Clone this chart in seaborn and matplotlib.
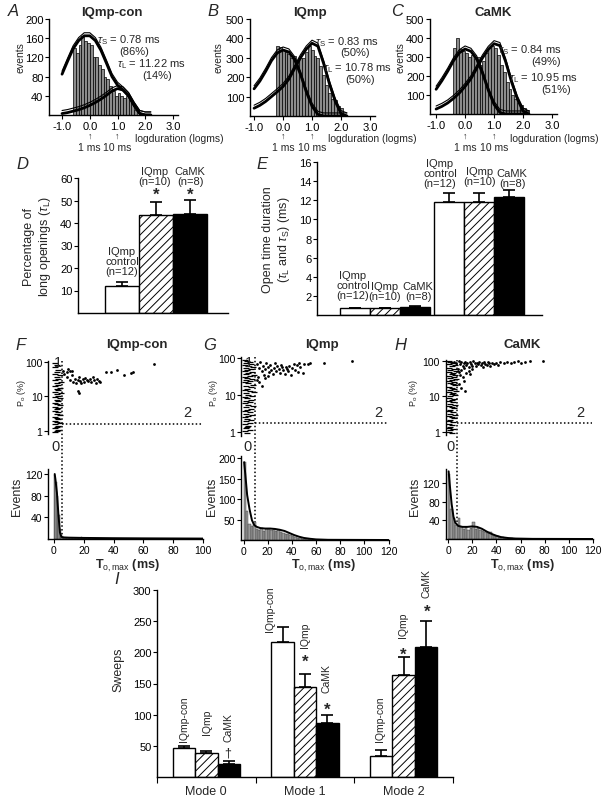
import numpy as np
import pandas as pd
import matplotlib
matplotlib.use("Agg")
import matplotlib.pyplot as plt
import matplotlib.transforms as mtransforms
import seaborn as sns

# ---------------- data ----------------
# Panels A-C : open-time histograms (log10 duration, bin width 0.1 log units)
A_centers = [-0.55,-0.45,-0.35,-0.25,-0.15,-0.05,0.05,0.15,0.25,0.35,0.45,0.55,
             0.65,0.75,0.85,0.95,1.05,1.15,1.25,1.35,1.45,1.55,1.65]
A_counts = [140,130,145,165,155,150,145,120,120,105,95,80,75,60,50,40,45,40,35,40,38,25,10]
B_centers = [-0.2,-0.1,0.0,0.1,0.2,0.3,0.4,0.5,0.6,0.7,0.8,0.9,1.0,1.1,1.2,1.3,1.4,
             1.5,1.6,1.7,1.8,1.9,2.0]
B_counts = [360,355,340,330,320,300,310,290,300,300,330,360,340,310,300,260,210,160,
            120,90,80,50,40]
C_centers = [-0.35,-0.25,-0.15,-0.05,0.05,0.15,0.25,0.35,0.45,0.55,0.65,0.75,0.85,0.95,
             1.05,1.15,1.25,1.35,1.45,1.55,1.65,1.75,1.85,1.95,2.05,2.15]
C_counts = [350,400,340,330,320,300,310,290,300,260,280,320,350,360,350,310,260,220,
            170,130,100,80,60,50,30,20]
# fitted components
fit_x = [-1.0,-0.8,-0.6,-0.4,-0.2,0.0,0.2,0.4,0.6,0.8,1.0,1.2,1.4,1.6,1.8,2.0,2.2]
A_fast = [85,112,138,155,165,165,155,135,108,80,62,52,40,20,3,0,0]
A_slow = [3,5,8,11,15,20,26,33,41,50,55,52,40,20,3,0,0]
B_fast = [140,180,230,285,325,340,330,290,215,125,50,8,0,0,0,0,0]
B_slow = [40,55,75,100,125,152,190,245,300,345,375,360,270,165,75,12,0]
C_fast = [130,175,225,280,322,342,330,290,215,125,50,8,0,0,0,0,0]
C_slow = [26,40,58,82,110,145,185,240,295,340,370,360,275,170,80,15,0]

# Panel D : percentage of long openings
D_conds = ['IQmp control', 'IQmp', 'CaMK']
D_vals = [12.0, 43.5, 44.2]
D_err = [2.0, 6.0, 6.0]

# Panel E : open time constants
COND = ['IQmp-con', 'IQmp', 'CaMK']
E_taus = ['tauS', 'tauL']
E_vals_S = [0.70, 0.70, 0.80]
E_err_S = [0.08, 0.08, 0.10]
E_vals_L = [11.8, 11.8, 12.3]
E_err_L = [1.0, 1.0, 0.8]

# Panels F-H : scatter of Po vs To,max (ms, %)
F_col = [(1,95),(2,82),(1,70),(3,60),(2,52),(1,46),(4,41),(2,37),(3,33),(1,30),(5,27),
         (2,24),(3,22),(1,20),(4,18),(2,16.5),(3,15),(1,13.5),(5,12.5),(2,11.5),(3,10.5),
         (1,9.6),(4,8.8),(2,8),(3,7.3),(1,6.6),(2,6),(4,5.5),(1,5),(3,4.6),(2,4.2),(1,3.8),
         (3,3.5),(2,3.2),(4,2.9),(1,2.6),(2,2.4),(3,2.2),(1,2.0),(2,1.85),(4,1.7),(1,1.55),
         (3,1.42),(2,1.3),(1,1.2),(3,1.1),(2,1.0),(1,0.95)]
F_pts = [(6,55),(7,45),(8.5,50),(9,38),(10.7,56),(11,30),(12,42),(13,27),(14,32),(15,25),
         (16,30),(17,36),(17.5,28),(18,24),(19.7,32),(20,26),(21,35),(22,30),(23,28),
         (24,33),(25,26),(26,38),(27,30),(28,25),(28.6,33),(30,28),(31,26),(16,14),(17,13),
         (35,50),(38,53),(42,57),(47,42),(52,47),(53,52),(67,88),(12,55),(9.5,62)]
G_col = [(1,90),(3,85),(5,80),(2,74),(6,70),(1,65),(4,62),(8,58),(2,55),(6,52),(3,48),
         (1,45),(7,43),(4,40),(2,37),(9,35),(5,33),(1,31),(3,29),(7,27),(2,25),(5,23.5),
         (1,22),(4,20.5),(8,19),(2,17.5),(6,16),(3,15),(1,14),(5,13),(9,12),(2,11),(4,10.2),
         (7,9.5),(1,8.8),(3,8.1),(6,7.5),(2,7),(5,6.5),(1,6),(4,5.5),(8,5.1),(2,4.7),(6,4.3),
         (3,4),(1,3.7),(5,3.4),(2,3.1),(7,2.9),(4,2.7),(1,2.5),(3,2.3),(6,2.1),(2,1.95),
         (5,1.8),(1,1.65),(4,1.5),(3,1.38),(2,1.25),(5,1.15),(1,1.05),(3,0.95)]
G_pts = [(11,70),(13,55),(14,78),(15,45),(16,62),(17,35),(18,50),(19,72),(20,58),(21,42),
         (22,66),(23,48),(24,38),(25,55),(26,74),(27,45),(28,60),(29,52),(30,40),(31,65),
         (32,56),(33,47),(34,36),(35,58),(36,50),(37,44),(38,62),(39,34),(40,54),(42,70),
         (43,48),(44,66),(45,42),(46,72),(47,58),(49,40),(50,68),(53,70),(55,74),(67,73),
         (89.6,84),(12,30),(13,22),(15,18),(11,25),(18,28),(20,33)]
H_col = [(0.5,98),(2,92),(4,86),(1,80),(6,75),(3,70),(0.5,65),(5,61),(2,57),(7,53),(1,50),
         (4,47),(3,44),(6,41),(1,38),(5,35),(2,33),(7,31),(3,29),(0.5,27),(5,25),(2,23.5),
         (4,22),(6,20.5),(1,19),(3,17.5),(5,16.5),(2,15.5),(7,14.5),(1,13.5),(4,12.5),
         (3,11.5),(6,10.8),(2,10),(0.5,9.3),(5,8.6),(3,8),(1,7.4),(4,6.8),(2,6.3),(6,5.8),
         (1,5.4),(3,5),(5,4.6),(2,4.2),(0.5,3.9),(4,3.6),(2,3.3),(6,3),(1,2.8),(3,2.6),
         (5,2.4),(2,2.2),(0.5,2),(4,1.85),(1,1.7),(3,1.55),(2,1.42),(0.5,1.3),(4,1.2),
         (2,1.1),(1,1.0),(3,0.92)]
H_pts = [(5,95),(7,88),(9,98),(10,80),(11,92),(12,72),(13,85),(14,96),(15,76),(16,89),
         (17,68),(18,93),(19,82),(20,74),(21,97),(22,86),(23,70),(24,90),(25,80),(26,95),
         (27,75),(28,88),(29,68),(30,92),(31,84),(32,78),(33,96),(34,86),(35,72),(36,90),
         (38,82),(40,88),(41,76),(43,92),(46,86),(49,95),(52,90),(55,93),(58,97),(60,88),
         (64,92),(68,100),(79,100),(8,60),(9,48),(10,40),(11,55),(12,35),(13,28),(9,22),
         (11,17),(14,14),(15,45),(17,52),(13,64),(20,58),(18,44)]
# To,max histograms
F_hist_c = [0.5,1.5,2.5,3.5,4.5,5.5,6.5,7.5,8.5,9.5,10.5,11.5,12.5,13.5,14.5,15.5,16.5,
            17.5,18.5,19.5,20.5,21.5,22.5,23.5,24.5]
F_hist_n = [118,105,80,45,18,6,3,2,2,1,1,1,1,1,1,1,1,1,4,1,1,1,0,1,0]
GH_hist_c = [1,3,5,7,9,11,13,15,17,19,21,23,25,27,29,31,33,35,37,39,41,43,45,47,49,51,53,
             55,57,59]
G_hist_n = [190,70,40,35,45,28,25,30,22,28,26,24,27,22,25,20,18,15,14,11,9,7,6,4,3,3,2,2,1,1]
H_hist_n = [140,65,45,30,45,25,22,25,20,24,36,22,24,20,18,14,12,16,9,7,6,5,4,3,3,2,2,1,1,1]
F_curve_x = [0.5,1,2,3,4,5,6,10,20,40,60,80,100]
F_curve_y = [120,110,85,45,12,4,3,2.5,2,1.5,1.2,1,0.8]
G_curve_x = [0.5,1.5,3,5,7,9,11,14,18,22,26,30,34,38,42,46,50,55,60,70,120]
G_curve_y = [190,160,110,75,48,36,32,29,28,28,27,25,22,17,12,8,5,3,1.5,0.5,0]
H_curve_x = [0.5,1.5,3,4.5,6,8.5,12,16,20,24,28,32,36,40,44,50,56,70,120]
H_curve_y = [145,115,75,48,35,28,26,26,27,26,22,16,11,7,4,2,1,0.3,0]
F_thr = (5.5, 1.6)
G_thr = (9.5, 1.75)
H_thr = (7.5, 1.8)

# Panel I : sweeps per mode
I_modes = ['Mode 0', 'Mode 1', 'Mode 2']
I_con = [46, 217, 33]
I_con_err = [4, 24, 11]
I_iq = [38, 145, 163]
I_iq_err = [4, 21, 29]
I_camk = [21, 86, 209]
I_camk_err = [4, 14, 42]

# ---------------- style ----------------
sns.set_theme(style='ticks')
plt.rcParams['font.family'] = ['Liberation Sans', 'DejaVu Sans']
plt.rcParams['mathtext.fontset'] = 'custom'
plt.rcParams['mathtext.rm'] = 'Liberation Sans'
plt.rcParams['mathtext.it'] = 'Liberation Sans:italic'
plt.rcParams['mathtext.bf'] = 'Liberation Sans:bold'
plt.rcParams['hatch.linewidth'] = 0.7
plt.rcParams['hatch.color'] = 'black'

W, H = 612, 803
fig = plt.figure(figsize=(W / 100, H / 100), dpi=100)
fig.patch.set_facecolor('white')


def add_ax(x0, y0, x1, y1):
    return fig.add_axes([x0 / W, 1 - y1 / H, (x1 - x0) / W, (y1 - y0) / H])


def ftext(x, y, s, **kw):
    kw.setdefault('ha', 'center')
    kw.setdefault('va', 'center')
    kw.setdefault('fontsize', 8)
    return fig.text(x / W, 1 - y / H, s, **kw)


def style_ax(ax, labelsize=8):
    for s in ['top', 'right']:
        ax.spines[s].set_visible(False)
    for s in ['left', 'bottom']:
        ax.spines[s].set_linewidth(1.0)
        ax.spines[s].set_color('black')
    ax.tick_params(direction='out', length=3, width=0.8, labelsize=labelsize, pad=1.0,
                   colors='black')
    ax.set_xlabel('')
    ax.set_ylabel('')
    ax.set_facecolor('none')
    ax.grid(False)


def blend_y(ax):
    return mtransforms.blended_transform_factory(ax.transData, fig.transFigure)


# ---------------- panels A-C ----------------
hist_specs = [
    dict(box=(49, 20, 178, 116), xlim=(-1.47, 3.18), ylim=(0, 200), yt=[40, 80, 120, 160, 200],
         c=A_centers, n=A_counts, brange=(-0.6, 1.7), fast=A_fast, slow=A_slow,
         title='IQmp-con', title_x=112, letter='A', letter_x=8, ylab_x=20, xlab_x=135,
         ann=[(r'$\tau_{\rm S}$ = 0.78 ms', 129, 40), ('(86%)', 134, 52),
              (r'$\tau_{\rm L}$ = 11.22 ms', 151, 64), ('(14%)', 157, 76)]),
    dict(box=(250, 20, 375, 117), xlim=(-1.14, 3.17), ylim=(0, 500),
         yt=[100, 200, 300, 400, 500],
         c=B_centers, n=B_counts, brange=(-0.25, 2.05), fast=B_fast, slow=B_slow,
         title='IQmp', title_x=310, letter='B', letter_x=207, ylab_x=219, xlab_x=328,
         ann=[(r'$\tau_{\rm S}$ = 0.83 ms', 347, 42), ('(50%)', 355, 53),
              (r'$\tau_{\rm L}$ = 10.78 ms', 357, 68), ('(50%)', 360, 80)]),
    dict(box=(430, 20, 557, 115), xlim=(-1.21, 3.17), ylim=(0, 500),
         yt=[100, 200, 300, 400, 500],
         c=C_centers, n=C_counts, brange=(-0.4, 2.2), fast=C_fast, slow=C_slow,
         title='CaMK', title_x=493, letter='C', letter_x=391, ylab_x=401, xlab_x=510,
         ann=[(r'$\tau_{\rm S}$ = 0.84 ms', 530, 50), ('(49%)', 546, 62),
              (r'$\tau_{\rm L}$ = 10.95 ms', 543, 78), ('(51%)', 556, 90)]),
]

for sp in hist_specs:
    ax = add_ax(*sp['box'])
    sns.histplot(x=sp['c'], weights=sp['n'], binwidth=0.1, binrange=sp['brange'],
                 color='#8c8c8c', edgecolor='black', linewidth=0.5, alpha=1.0, ax=ax)
    up = ax.transData + mtransforms.ScaledTranslation(0, 2.2 / 72, fig.dpi_scale_trans)
    for yy in (sp['fast'], sp['slow']):
        sns.lineplot(x=fit_x, y=yy, color='black', linewidth=2.0, sort=False, ax=ax)
        ax.plot(fit_x, yy, color='black', linewidth=0.8, transform=up)
    style_ax(ax)
    ax.set_xlim(*sp['xlim'])
    ax.set_ylim(*sp['ylim'])
    ax.set_yticks(sp['yt'])
    ax.set_xticks([-1, 0, 1, 2, 3])
    ax.set_xticklabels(['-1.0', '0.0', '1.0', '2.0', '3.0'])
    bt = blend_y(ax)
    for xv in (0, 1):
        ax.text(xv, 1 - 136 / H, '↑', transform=bt, ha='center', va='center', fontsize=6.5)
    ax.text(0, 1 - 148 / H, '1 ms', transform=bt, ha='center', va='center', fontsize=7.5)
    ax.text(1, 1 - 148 / H, '10 ms', transform=bt, ha='center', va='center', fontsize=7.5)
    ftext(sp['xlab_x'], 139, 'logduration (logms)', ha='left', fontsize=7.5)
    ftext(sp['ylab_x'], 58, 'events', rotation=90, fontsize=7.5)
    ftext(sp['title_x'], 13, sp['title'], fontsize=9.5, fontweight='bold')
    ftext(sp['letter_x'], 11, sp['letter'], fontsize=12, fontstyle='italic', ha='left')
    for s, x, y in sp['ann']:
        ftext(x, y, s, fontsize=8)

pal = {'IQmp-con': 'white', 'IQmp': 'white', 'CaMK': 'black',
       'IQmp control': 'white'}


def finish_bars(ax, vals, errs):
    patches = sorted([p for p in ax.patches if p.get_width() > 0], key=lambda p: p.get_x())
    for i, (p, v, e) in enumerate(zip(patches, vals, errs)):
        if i % 3 == 1:
            p.set_hatch('////')
        p.set_edgecolor('black')
        p.set_linewidth(1.0)
        cx = p.get_x() + p.get_width() / 2
        ax.errorbar([cx], [v], yerr=[[0], [e]], fmt='none', ecolor='black',
                    elinewidth=1.2, capsize=4, capthick=1.2)


# ---------------- panel D ----------------
axD = add_ax(78, 179, 228, 314)
dfD = pd.DataFrame({'cond': D_conds, 'val': D_vals})
sns.barplot(data=dfD, x='cond', y='val', hue='cond', palette=pal, dodge=False, width=1.0,
            saturation=1, errorbar=None, legend=False, ax=axD)
finish_bars(axD, D_vals, D_err)
style_ax(axD)
axD.set_xlim(-1.29, 3.12)
axD.set_ylim(0, 60)
axD.set_yticks([10, 20, 30, 40, 50, 60])
axD.set_xticks([])
ftext(22, 165, 'D', fontsize=12, fontstyle='italic')
ftext(38, 247, 'Percentage of\n' + r'long openings ($\tau_{\rm L}$)', rotation=90,
      fontsize=9, linespacing=1.1)
ftext(122, 262, 'IQmp\ncontrol\n(n=12)', linespacing=1.05)
ftext(155, 177, 'IQmp\n(n=10)', linespacing=1.05)
ftext(190, 177, 'CaMK\n(n=8)', linespacing=1.05)
ftext(156, 195, '*', fontsize=12, fontweight='bold')
ftext(190, 195, '*', fontsize=12, fontweight='bold')

# ---------------- panel E ----------------
axE = add_ax(317, 163, 542, 316)
dfE = pd.DataFrame({'tau': [E_taus[0]] * 3 + [E_taus[1]] * 3, 'cond': COND * 2,
                    'val': E_vals_S + E_vals_L})
sns.barplot(data=dfE, x='tau', y='val', hue='cond', hue_order=COND, order=E_taus,
            palette=pal, width=0.96, saturation=1, errorbar=None, legend=False, ax=axE)
finish_bars(axE, E_vals_S + E_vals_L, E_err_S + E_err_L)
style_ax(axE)
axE.set_xlim(-0.72, 1.67)
axE.set_ylim(0, 16)
axE.set_yticks([2, 4, 6, 8, 10, 12, 14, 16])
axE.set_xticks([])
ftext(262, 165, 'E', fontsize=12, fontstyle='italic')
ftext(277, 240, 'Open time duration\n' + r'($\tau_{\rm L}$ and $\tau_{\rm S}$) (ms)',
      rotation=90, fontsize=9, linespacing=1.1)
ftext(353, 286, 'IQmp\ncontrol\n(n=12)', linespacing=1.05)
ftext(385, 292, 'IQmp\n(n=10)', linespacing=1.05)
ftext(418, 292, 'CaMK\n(n=8)', linespacing=1.05)
ftext(440, 174, 'IQmp\ncontrol\n(n=12)', linespacing=1.05)
ftext(480, 177, 'IQmp\n(n=10)', linespacing=1.05)
ftext(512, 179, 'CaMK\n(n=8)', linespacing=1.05)

# ---------------- panels F-H ----------------
fgh = [
    dict(letter='F', letter_x=15, title='IQmp-con', title_x=137, xlim=(-4, 100),
         xt=[0, 20, 40, 60, 80, 100], sc_box=(48, 361.6, 203, 435.3),
         hi_box=(48, 469.6, 203, 540), hylim=(0, 130), hyt=[40, 80, 120],
         col=F_col, pts=F_pts, hc=F_hist_c, hn=F_hist_n, bw=1, brange=(0, 25),
         cx=F_curve_x, cy=F_curve_y, thr=F_thr, lab_x=22, ev_x=17,
         regions=[('1', 58, 363), ('2', 187, 413), ('0', 55, 447)], xl_x=127),
    dict(letter='G', letter_x=203, title='IQmp', title_x=322, xlim=(-2, 120),
         xt=[0, 20, 40, 60, 80, 100, 120], sc_box=(241.1, 357.5, 388.5, 436.6),
         hi_box=(241.1, 457, 388.5, 541), hylim=(0, 205), hyt=[50, 100, 150, 200],
         col=G_col, pts=G_pts, hc=GH_hist_c, hn=G_hist_n, bw=2, brange=(0, 60),
         cx=G_curve_x, cy=G_curve_y, thr=G_thr, lab_x=213, ev_x=212,
         regions=[('1', 249, 363), ('2', 378, 413), ('0', 247, 447)], xl_x=323),
    dict(letter='H', letter_x=394, title='CaMK', title_x=522, xlim=(-2, 120),
         xt=[0, 20, 40, 60, 80, 100, 120], sc_box=(445.6, 360.5, 593, 436.4),
         hi_box=(445.6, 470, 593, 540), hylim=(0, 150), hyt=[40, 80, 120],
         col=H_col, pts=H_pts, hc=GH_hist_c, hn=H_hist_n, bw=2, brange=(0, 60),
         cx=H_curve_x, cy=H_curve_y, thr=H_thr, lab_x=413, ev_x=415,
         regions=[('2', 580, 413), ('0', 450, 447)], xl_x=522),
]

for sp in fgh:
    axs = add_ax(*sp['sc_box'])
    cx_, cy_ = zip(*sp['col'])
    sns.scatterplot(x=list(cx_), y=list(cy_), marker='_', s=20, color='black',
                    linewidth=0.9, legend=False, ax=axs)
    px_, py_ = zip(*sp['pts'])
    sns.scatterplot(x=list(px_), y=list(py_), marker='o', s=4, color='black',
                    linewidth=0, legend=False, ax=axs)
    style_ax(axs, labelsize=7.5)
    axs.set_yscale('log')
    axs.set_ylim(0.8, 110)
    axs.set_xlim(*sp['xlim'])
    axs.set_yticks([1, 10, 100])
    axs.set_yticklabels(['1', '10', '100'])
    axs.yaxis.set_minor_locator(matplotlib.ticker.NullLocator())
    axs.spines['bottom'].set_visible(False)
    axs.set_xticks([])
    thx, thy = sp['thr']
    axs.plot([thx, sp['xlim'][1] - 1], [thy, thy], color='black', lw=1.1,
             ls=(0, (1, 1.5)))
    axs.plot([thx, thx], [1 - sp['sc_box'][1] / H, 1 - sp['hi_box'][3] / H],
             transform=blend_y(axs), color='black', lw=1.1, ls=(0, (1, 1.5)),
             clip_on=False)

    axh = add_ax(*sp['hi_box'])
    sns.histplot(x=sp['hc'], weights=sp['hn'], binwidth=sp['bw'], binrange=sp['brange'],
                 color='#9a9a9a', edgecolor='#333333', linewidth=0.3, alpha=1.0, ax=axh)
    sns.lineplot(x=sp['cx'], y=sp['cy'], color='black', linewidth=1.4, sort=False, ax=axh)
    style_ax(axh, labelsize=7.5)
    axh.set_xlim(*sp['xlim'])
    axh.set_ylim(*sp['hylim'])
    axh.set_yticks(sp['hyt'])
    axh.set_xticks(sp['xt'])

    ftext(sp['letter_x'], 346, sp['letter'], fontsize=12, fontstyle='italic', ha='left')
    ftext(sp['title_x'], 345, sp['title'], fontsize=9.5, fontweight='bold')
    ftext(sp['lab_x'], 393, r'P$_{\rm o}$ (%)', rotation=90, fontsize=6.5)
    ftext(sp['ev_x'], 497, 'Events', rotation=90, fontsize=9)
    ftext(sp['xl_x'], 566, r'T$_{\rm o,max}$ (ms)', fontsize=9, fontweight='bold')
    for s, x, y in sp['regions']:
        ftext(x, y, s, fontsize=10.5)

# ---------------- panel I ----------------
axI = add_ax(157, 591, 453, 778)
dfI = pd.DataFrame({'mode': I_modes * 3,
                    'cond': [COND[0]] * 3 + [COND[1]] * 3 + [COND[2]] * 3,
                    'val': I_con + I_iq + I_camk})
sns.barplot(data=dfI, x='mode', y='val', hue='cond', hue_order=COND, order=I_modes,
            palette=pal, width=0.68, saturation=1, errorbar=None, legend=False, ax=axI)
I_vals_sorted, I_err_sorted = [], []
for m in range(3):
    I_vals_sorted += [I_con[m], I_iq[m], I_camk[m]]
    I_err_sorted += [I_con_err[m], I_iq_err[m], I_camk_err[m]]
finish_bars(axI, I_vals_sorted, I_err_sorted)
style_ax(axI)
axI.set_xlim(-0.5, 2.5)
axI.set_ylim(0, 300)
axI.set_yticks([50, 100, 150, 200, 250, 300])
axI.set_xticks([-0.5, 0.5, 1.5, 2.5])
axI.set_xticklabels([])
axI.tick_params(axis='x', length=4)
ftext(117, 580, 'I', fontsize=12, fontstyle='italic')
ftext(118, 670, 'Sweeps', rotation=90, fontsize=9)
for x, m in zip([206, 305, 404], I_modes):
    ftext(x, 792, m, fontsize=9)
rot_labels = [('IQmp-con', 184, 742), ('IQmp', 207, 735), ('CaMK', 228, 742),
              ('IQmp-con', 270, 632), ('IQmp', 305, 648), ('CaMK', 327, 693),
              ('IQmp-con', 380, 742), ('IQmp', 403, 638), ('CaMK', 427, 598)]
for s, x, y in rot_labels:
    ftext(x, y, s, rotation=90, va='bottom', fontsize=7.5)
for x, y in [(305, 662), (327, 710), (403, 655), (427, 612)]:
    ftext(x, y, '*', fontsize=12, fontweight='bold')
ftext(228, 754, '†', fontsize=9)

fig.savefig('out.png', dpi=100)
